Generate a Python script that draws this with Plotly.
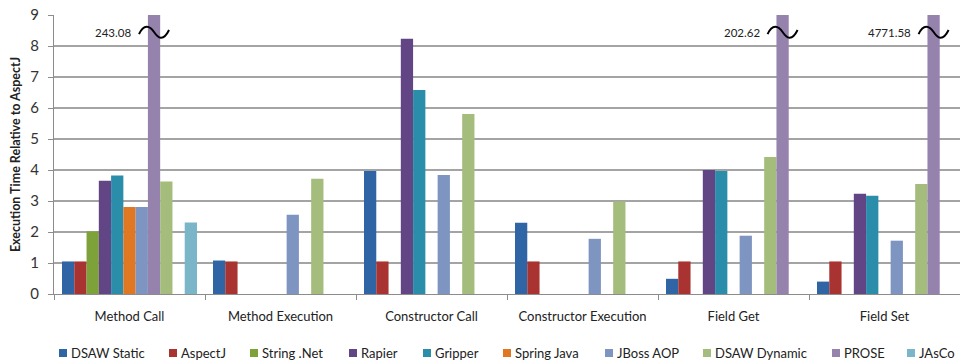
import plotly.graph_objects as go

categories = ["Method Call", "Method Execution", "Constructor Call",
              "Constructor Execution", "Field Get", "Field Set"]

dsaw_static = [1.05, 1.08, 3.97, 2.30, 0.49, 0.40]
aspectj = [1.05, 1.05, 1.05, 1.05, 1.05, 1.05]
string_net = [2.02, None, None, None, None, None]
rapier = [3.65, None, 8.23, None, 4.00, 3.23]
gripper = [3.82, None, 6.58, None, 3.97, 3.17]
spring_java = [2.81, None, None, None, None, None]
jboss_aop = [2.81, 2.56, 3.84, 1.78, 1.88, 1.72]
dsaw_dynamic = [3.63, 3.72, 5.81, 2.98, 4.42, 3.55]
prose = [243.08, None, None, None, 202.62, 4771.58]
jasco = [2.31, None, None, None, None, None]
# in "Method Call" the PROSE bar sits before DSAW Dynamic
prose_early_cats = ["Method Call"]

y_ticks = list(range(0, 10))

prose_early = [v if c in prose_early_cats else None for c, v in zip(categories, prose)]
prose_late = [None if c in prose_early_cats else v for c, v in zip(categories, prose)]

# (name, values, colour, in legend)
series = [
    ("DSAW Static", dsaw_static, "#2f65a5", True),
    ("AspectJ", aspectj, "#a83331", True),
    ("String .Net", string_net, "#7ea23a", True),
    ("Rapier", rapier, "#614584", True),
    ("Gripper", gripper, "#2a8eaa", True),
    ("Spring Java", spring_java, "#e07722", True),
    ("JBoss AOP", jboss_aop, "#7d95c0", True),
    ("PROSE", prose_early, "#9583ae", False),
    ("DSAW Dynamic", dsaw_dynamic, "#a4bc7c", True),
    ("PROSE", prose_late, "#9583ae", True),
    ("JAsCo", jasco, "#7ab5c8", True),
]
legend_order = ["DSAW Static", "AspectJ", "String .Net", "Rapier", "Gripper",
                "Spring Java", "JBoss AOP", "DSAW Dynamic", "PROSE", "JAsCo"]
legend_colors = {n: c for n, _, c, s in series if s}

FONT = "Lato, 'Open Sans', sans-serif"
fig = go.Figure()
for name, vals, col, show in series:
    fig.add_trace(go.Bar(name=name, x=categories, y=vals, marker_color=col,
                         marker_line_width=0, showlegend=False))

W, H = 960, 363
ML, MR, MT, MB = 54, 0, 15, 69
plot_w_px = W - ML - MR
plot_h_px = H - MT - MB

BARGAP = 0.106
nslots = len(series)
slot_w = (1 - BARGAP) / nslots
cat_px = plot_w_px / len(categories)
y_px = plot_h_px / 9.0

shapes = []
annotations = []
# break markers + value labels for clipped PROSE bars
for i, c in enumerate(categories):
    if prose[i] is None:
        continue
    slot = 7 if c in prose_early_cats else 9
    cx = i - 0.5 + BARGAP / 2 + (slot + 0.5) * slot_w
    cy = 8.45
    dx = lambda p: p / cat_px
    dy = lambda p: p / y_px
    path = (f"M {cx-dx(15)},{cy-dy(2)} "
            f"C {cx-dx(10)},{cy+dy(9)} {cx-dx(4)},{cy+dy(6)} {cx},{cy} "
            f"S {cx+dx(9)},{cy-dy(10)} {cx+dx(15)},{cy+dy(2)}")
    shapes.append(dict(type="path", path=path, xref="x2", yref="y",
                       line=dict(color="black", width=2)))
    annotations.append(dict(x=cx, y=cy, xref="x2", yref="y", text=f"{prose[i]:.2f}",
                            showarrow=False, xanchor="right", yanchor="middle",
                            xshift=-21, font=dict(family=FONT, size=11.5, color="#222")))

# legend drawn along the bottom (marker left edges in px)
legend_px = [59, 169, 250, 349, 423, 503, 605, 703, 832, 907]
leg_y_px = 353
for name, lx in zip(legend_order, legend_px):
    x0 = (lx - ML) / plot_w_px
    x1 = (lx + 8 - ML) / plot_w_px
    y0 = (H - MB - (leg_y_px + 4)) / plot_h_px
    y1 = (H - MB - (leg_y_px - 4)) / plot_h_px
    shapes.append(dict(type="rect", xref="paper", yref="paper", x0=x0, x1=x1, y0=y0, y1=y1,
                       fillcolor=legend_colors[name], line=dict(width=0)))
    annotations.append(dict(x=(lx + 10 - ML) / plot_w_px, y=(H - MB - leg_y_px) / plot_h_px,
                            xref="paper", yref="paper", text=name, showarrow=False,
                            xanchor="left", yanchor="middle",
                            font=dict(family=FONT, size=13, color="#222")))

fig.update_layout(
    width=W, height=H,
    margin=dict(l=ML, r=MR, t=MT, b=MB),
    paper_bgcolor="white", plot_bgcolor="white",
    barmode="group", bargap=BARGAP, bargroupgap=0,
    font=dict(family=FONT, color="#222"),
    shapes=shapes, annotations=annotations,
    showlegend=False,
    xaxis=dict(type="category", range=[-0.5, 5.5], showgrid=False, showline=True,
               linecolor="#8c8c8c", linewidth=1, ticks="outside", tickson="boundaries",
               ticklen=5, tickcolor="#8c8c8c", tickfont=dict(size=13, family=FONT),
               ticklabelstandoff=10),
    xaxis2=dict(overlaying="x", range=[-0.5, 5.5], visible=False, showgrid=False),
    yaxis=dict(range=[0, 9], tickvals=y_ticks, showgrid=True, gridcolor="#a4a4a4",
               gridwidth=1.6, zeroline=False, showline=True, linecolor="#8c8c8c",
               ticks="outside", ticklen=5, tickcolor="#8c8c8c",
               tickfont=dict(size=15, family=FONT, color="#333"), ticklabelstandoff=6,
               title=dict(text="<b>Execution Time Relative to AspectJ</b>",
                          font=dict(size=12.5, family=FONT), standoff=6)),
)
# invisible trace to activate xaxis2
fig.add_trace(go.Scatter(x=[0], y=[0], xaxis="x2", mode="markers",
                         marker=dict(opacity=0), showlegend=False, hoverinfo="skip"))

fig.write_html("out.html")
